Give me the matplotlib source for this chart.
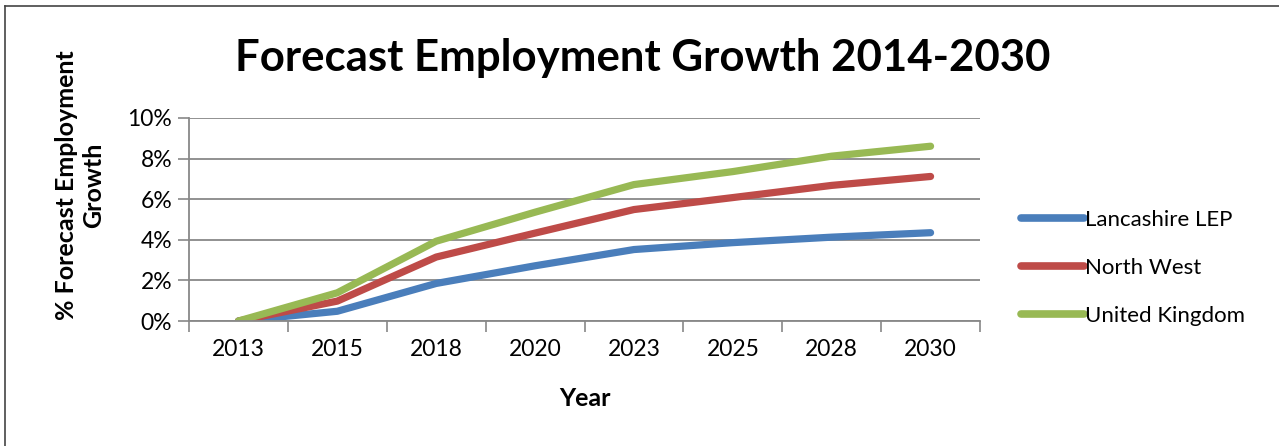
import numpy as np
import matplotlib.pyplot as plt
from matplotlib.lines import Line2D
from matplotlib.ticker import FuncFormatter, MultipleLocator

years = ['2013', '2015', '2018', '2020', '2023', '2025', '2028', '2030']
lancashire = [0.0, 0.48, 1.85, 2.72, 3.52, 3.86, 4.13, 4.35]
north_west = [0.0, 0.98, 3.15, 4.33, 5.49, 6.08, 6.68, 7.12]
uk = [0.0, 1.39, 3.93, 5.36, 6.72, 7.36, 8.12, 8.61]

names = ['Lancashire LEP', 'North West', 'United Kingdom']
colors = ['#4a7ebb', '#be4b48', '#98b954']

plt.rcParams['font.family'] = ['Lato', 'DejaVu Sans']

W, H = 1279, 446
fig = plt.figure(figsize=(W / 100, H / 100), dpi=100)

# plot area in pixels: left 189, right 980, top 118, bottom 321
ax = fig.add_axes([189 / W, 1 - 321 / H, (980 - 189) / W, (321 - 118) / H])

x = np.arange(len(years)) + 0.5
for vals, c in zip([lancashire, north_west, uk], colors):
    ax.plot(x, vals, color=c, lw=5.2, solid_capstyle='round', solid_joinstyle='round')

ax.set_xlim(0, len(years))
ax.set_ylim(0, 10)
ax.yaxis.set_major_locator(MultipleLocator(2))
ax.yaxis.set_major_formatter(FuncFormatter(lambda v, p: '%d%%' % v))
ax.set_xticks(np.arange(len(years) + 1))
ax.set_xticks(x, minor=True)
ax.set_xticklabels([])
ax.set_xticklabels(years, minor=True)
ax.tick_params(axis='x', which='major', length=8, color='#888888', width=1.2)
ax.tick_params(axis='x', which='minor', length=0, pad=13, labelsize=16.5)
ax.tick_params(axis='y', length=8, color='#888888', width=1.2, labelsize=16.5, pad=4)

ax.grid(axis='y', color='#888888', lw=1.3)
ax.set_axisbelow(True)
for s in ['top', 'right']:
    ax.spines[s].set_visible(False)
for s in ['left', 'bottom']:
    ax.spines[s].set_color('#888888')
    ax.spines[s].set_linewidth(1.3)

ax.set_xlabel('Year', fontsize=18, fontweight='bold')
ax.xaxis.set_label_coords((585 - 189) / 791, -(398 - 321) / 203)
ax.xaxis.label.set_va('center')
ax.set_ylabel('% Forecast Employment\nGrowth', fontsize=18, fontweight='bold',
              linespacing=1.25)
ax.yaxis.set_label_coords(-(189 - 80) / 791, (321 - 185) / 203)
ax.yaxis.label.set_va('center')

fig.text(643 / W, 1 - 58 / H, 'Forecast Employment Growth 2014-2030', fontsize=31.5,
         fontweight='bold', ha='center', va='center')

handles = [Line2D([0], [0], color=c, lw=5.5, solid_capstyle='round') for c in colors]
fig.legend(handles, names, loc='center left', bbox_to_anchor=(1012 / W, 1 - 268 / H),
           frameon=False, fontsize=16, handlelength=2.85, handletextpad=0.05,
           labelspacing=1.25, borderaxespad=0)

# chart frame (top and left edges)
fig.add_artist(Line2D([5.5 / W, 1], [1 - 5.5 / H, 1 - 5.5 / H], color='#444444', lw=1.2))
fig.add_artist(Line2D([5.5 / W, 5.5 / W], [0, 1 - 5.5 / H], color='#444444', lw=1.2))

fig.savefig('out.png', dpi=100)
